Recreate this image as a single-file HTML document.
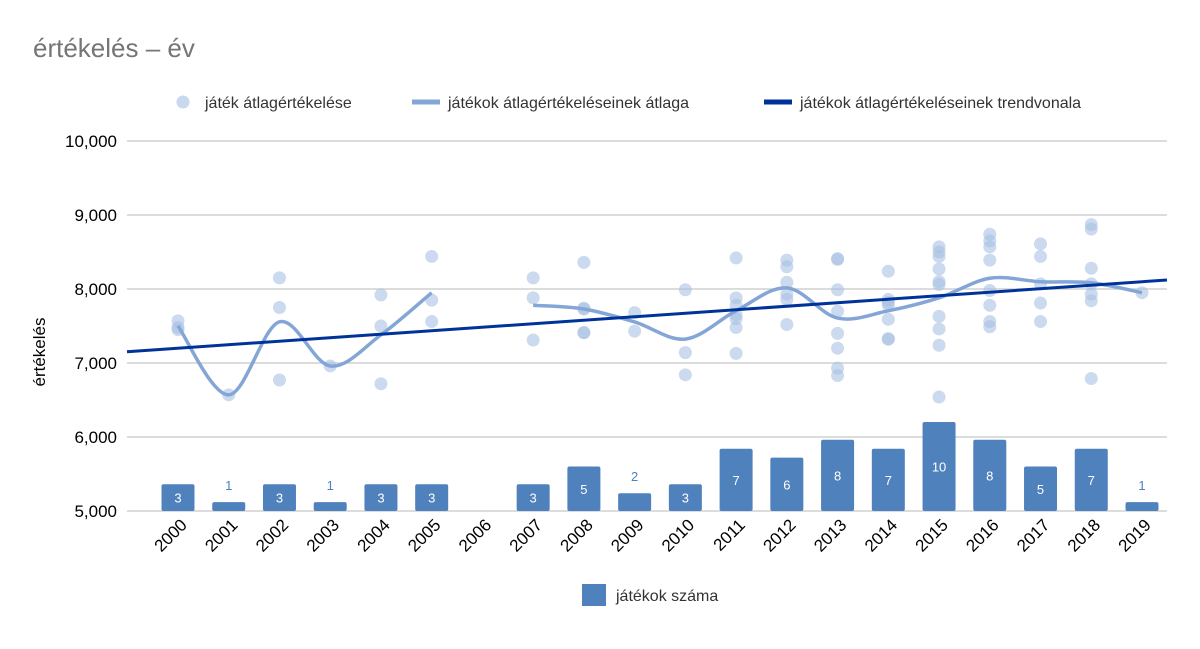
<!DOCTYPE html>
<html><head><meta charset="utf-8"><style>
body{margin:0;background:#fff;font-family:"Liberation Sans",sans-serif}
svg text{font-family:"Liberation Sans",sans-serif}
</style></head><body>
<svg id="c" width="1200" height="644"></svg>
<script>
const years=["2000","2001","2002","2003","2004","2005","2006","2007","2008","2009","2010","2011","2012","2013","2014","2015","2016","2017","2018","2019"];
const ratings=[[7.57,7.48,7.45],[6.57],[8.15,7.75,6.77],[6.96],[7.92,7.50,6.72],[8.44,7.85,7.56],[],[8.15,7.88,7.31],[8.36,7.74,7.73,7.41,7.41],[7.68,7.43],[7.99,7.14,6.84],[8.42,7.88,7.78,7.65,7.60,7.48,7.13],[8.39,8.30,8.09,7.93,7.86,7.52],[8.41,8.40,7.99,7.70,7.40,7.20,6.93,6.83],[8.24,7.86,7.82,7.78,7.59,7.33,7.32],[8.57,8.50,8.44,8.27,8.10,8.06,7.63,7.46,7.24,6.54],[8.74,8.65,8.57,8.39,7.98,7.78,7.56,7.49],[8.61,8.44,8.07,7.81,7.56],[8.87,8.81,8.28,8.07,7.93,7.84,6.79],[7.95]];
const yTicks=[5,6,7,8,9,10];
const NS="http://www.w3.org/2000/svg",svg=document.getElementById('c');
function el(t,a,p){const e=document.createElementNS(NS,t);for(const k in a)e.setAttribute(k,a[k]);(p||svg).appendChild(e);return e;}
const L=127,R=1167,x0=178,step=(1142-178)/19;
const X=i=>x0+i*step, Y=v=>511-(v-5)*74, BH=n=>n*8.9;
let t=el('text',{x:33,y:57,'font-size':26,fill:'#757575'});t.textContent='értékelés – év';

yTicks.forEach(v=>{const g=el('line',{x1:L,x2:R,y1:Y(v),y2:Y(v),stroke:'#d0d0d0','stroke-width':1.5});

const tx=el('text',{x:117,y:Y(v)+6,'text-anchor':'end','font-size':17,fill:'#000'});tx.textContent=v.toLocaleString('en-US')+',000';
});
const yt=el('text',{transform:'translate(45,352) rotate(-90)','text-anchor':'middle','font-size':17});yt.textContent='értékelés';

// bars
ratings.forEach((r,i)=>{const n=r.length;if(!n)return;const h=BH(n);
const b=el('rect',{x:X(i)-16.5,y:511-h,width:33,height:h,fill:'#4f81bd',rx:2});

const lt=el('text',{x:X(i),'text-anchor':'middle','font-size':13});lt.textContent=n;
if(h>20){lt.setAttribute('y',511-h/2+5);lt.setAttribute('fill','#fff');}else{lt.setAttribute('y',511-h-12);lt.setAttribute('fill','#4f81bd');}
});
// points
ratings.forEach((r,i)=>r.forEach(v=>{const c=el('circle',{cx:X(i),cy:Y(v),r:6.5,fill:'#a9c1e2','fill-opacity':0.6});
}));
// means
const means=ratings.map(r=>r.length?r.reduce((a,b)=>a+b,0)/r.length:null);
let segs=[],cur=[];means.forEach((m,i)=>{if(m==null){if(cur.length)segs.push(cur);cur=[];}else cur.push([X(i),Y(m)]);});if(cur.length)segs.push(cur);
segs.forEach(p=>{let d='M'+p[0][0]+','+p[0][1];for(let i=0;i<p.length-1;i++){const p0=p[i-1]||p[i],p1=p[i],p2=p[i+1],p3=p[i+2]||p2;
d+=` C${p1[0]+(p2[0]-p0[0])/6},${p1[1]+(p2[1]-p0[1])/6} ${p2[0]-(p3[0]-p1[0])/6},${p2[1]-(p3[1]-p1[1])/6} ${p2[0]},${p2[1]}`;}
const pa=el('path',{d,fill:'none',stroke:'#84a6d6','stroke-width':3.5});});
// trend
let xs=[],ys=[];means.forEach((m,i)=>{if(m!=null){xs.push(i);ys.push(m);}});
const mx=xs.reduce((a,b)=>a+b)/xs.length,my=ys.reduce((a,b)=>a+b)/ys.length;
let sxy=0,sxx=0;xs.forEach((x,k)=>{sxy+=(x-mx)*(ys[k]-my);sxx+=(x-mx)**2;});const sl=sxy/sxx,ic=my-sl*mx;
const iL=(L-x0)/step,iR=(R-x0)/step;
const tr=el('line',{x1:L,y1:Y(ic+sl*iL),x2:R,y2:Y(ic+sl*iR),stroke:'#003399','stroke-width':3});

// x labels
years.forEach((y,i)=>{const tx=el('text',{transform:`translate(${X(i)+10},${526}) rotate(-45)`,'text-anchor':'end','font-size':17});tx.textContent=y;
});
// legends
function leg(x,y,shape,label,name){const g=el('g',{});
if(shape=='dot')el('circle',{cx:x,cy:y,r:6.5,fill:'#c9d8ee'},g);
else if(shape=='bar')el('rect',{x:x-12,y:y-11,width:24,height:22,fill:'#4f81bd'},g);
else el('line',{x1:x-14,x2:x+14,y1:y,y2:y,stroke:shape,'stroke-width':5},g);
const tx=el('text',{x:x+(shape=='bar'?22:22),y:y+6,'font-size':16,fill:'#333'},g);tx.textContent=label;}
leg(183,102,'dot','játék átlagértékelése','legend-ratings');
leg(426,102,'#84a6d6','játékok átlagértékeléseinek átlaga','legend-average');
leg(778,102,'#003399','játékok átlagértékeléseinek trendvonala','legend-trend');
leg(594,595,'bar','játékok száma','legend-count');
</script></body></html>
